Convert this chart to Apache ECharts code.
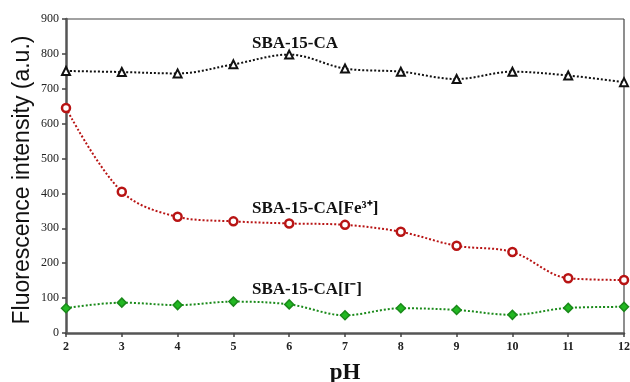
<!DOCTYPE html>
<html>
<head>
<meta charset="utf-8">
<script src="https://cdn.jsdelivr.net/npm/echarts@6/dist/echarts.min.js"></script>
<style>
  html, body { margin: 0; padding: 0; background: #fff; }
  #chart { width: 630px; height: 382px; }
</style>
</head>
<body>
<div id="chart"></div>
<script>
// pH values on the x axis
const phValues = [2, 3, 4, 5, 6, 7, 8, 9, 10, 11, 12];

// fluorescence intensity (a.u.) per series
const sbaCA = [751, 748, 744, 770, 798, 758, 749, 728, 749, 738, 719];
const sbaCAFe = [645, 405, 333, 320, 314, 310, 290, 250, 232, 157, 152];
const sbaCAI = [71, 87, 80, 90, 82, 51, 71, 66, 52, 72, 75];

const seriesNames = ['SBA-15-CA', 'SBA-15-CA[Fe³⁺]', 'SBA-15-CA[I⁻]'];
const yTitle = 'Fluorescence intensity (a.u.)';

const chart = echarts.init(document.getElementById('chart'));

const toPairs = vals => vals.map((v, i) => [phValues[i], v]);

const lineSeries = (name, vals, color, fill, symbol, size, bw) => ({
  name,
  type: 'line',
  smooth: 0.35,
  data: toPairs(vals),
  symbol,
  symbolSize: size,
  itemStyle: { color: fill, borderColor: color, borderWidth: bw },
  lineStyle: { color, width: 2, type: [2, 2] },
  emphasis: { disabled: true },
  z: 3
});

const labelStyle = {
  fontFamily: 'Liberation Serif',
  fontWeight: 'bold',
  fontSize: 17,
  fill: '#111'
};

chart.setOption({
  animation: false,
  grid: { left: 66, right: 6, top: 19, bottom: 49, outerBoundsMode: 'none' },
  xAxis: {
    type: 'value',
    min: 2,
    max: 12,
    interval: 1,
    name: 'pH',
    nameLocation: 'middle',
    nameGap: 29,
    nameTextStyle: {
      fontFamily: 'Liberation Serif',
      fontWeight: 'bold',
      fontSize: 23,
      color: '#111'
    },
    axisLine: { show: true, lineStyle: { color: '#555', width: 2.5 } },
    axisTick: { show: true, length: 4, lineStyle: { color: '#444', width: 1.5 } },
    splitLine: { show: false },
    axisLabel: {
      fontFamily: 'Liberation Serif',
      fontWeight: 'bold',
      fontSize: 12,
      color: '#222',
      margin: 8
    }
  },
  yAxis: {
    type: 'value',
    min: 0,
    max: 900,
    interval: 100,
    axisLine: { show: true, lineStyle: { color: '#555', width: 2.5 } },
    axisTick: { show: true, length: 4, lineStyle: { color: '#444', width: 1.5 } },
    splitLine: { show: false },
    axisLabel: {
      fontFamily: 'Liberation Serif',
      fontSize: 12,
      color: '#222',
      margin: 7
    }
  },
  series: [
    lineSeries(seriesNames[0], sbaCA, '#111', '#fff', 'triangle', 8, 2),
    lineSeries(seriesNames[1], sbaCAFe, '#b81414', '#fff', 'circle', 8, 2.5),
    lineSeries(seriesNames[2], sbaCAI, '#1a8a1a', '#22b822', 'diamond', 9, 1.5)
  ],
  graphic: [
    // top and right border of the plot box
    { type: 'line', shape: { x1: 66, y1: 19, x2: 624, y2: 19 }, style: { stroke: '#444', lineWidth: 1.2 } },
    { type: 'line', shape: { x1: 624, y1: 19, x2: 624, y2: 333 }, style: { stroke: '#444', lineWidth: 1.2 } },
    {
      type: 'text',
      x: 23,
      y: 180,
      rotation: Math.PI / 2,
      style: {
        text: yTitle,
        fontFamily: 'Liberation Sans',
        fontSize: 23,
        fill: '#111',
        align: 'center',
        verticalAlign: 'middle'
      }
    },
    { type: 'text', left: 252, top: 35, style: Object.assign({ text: seriesNames[0] }, labelStyle) },
    { type: 'text', left: 252, top: 200, style: Object.assign({ text: seriesNames[1] }, labelStyle) },
    { type: 'text', left: 252, top: 281, style: Object.assign({ text: seriesNames[2] }, labelStyle) }
  ]
});
</script>
</body>
</html>
